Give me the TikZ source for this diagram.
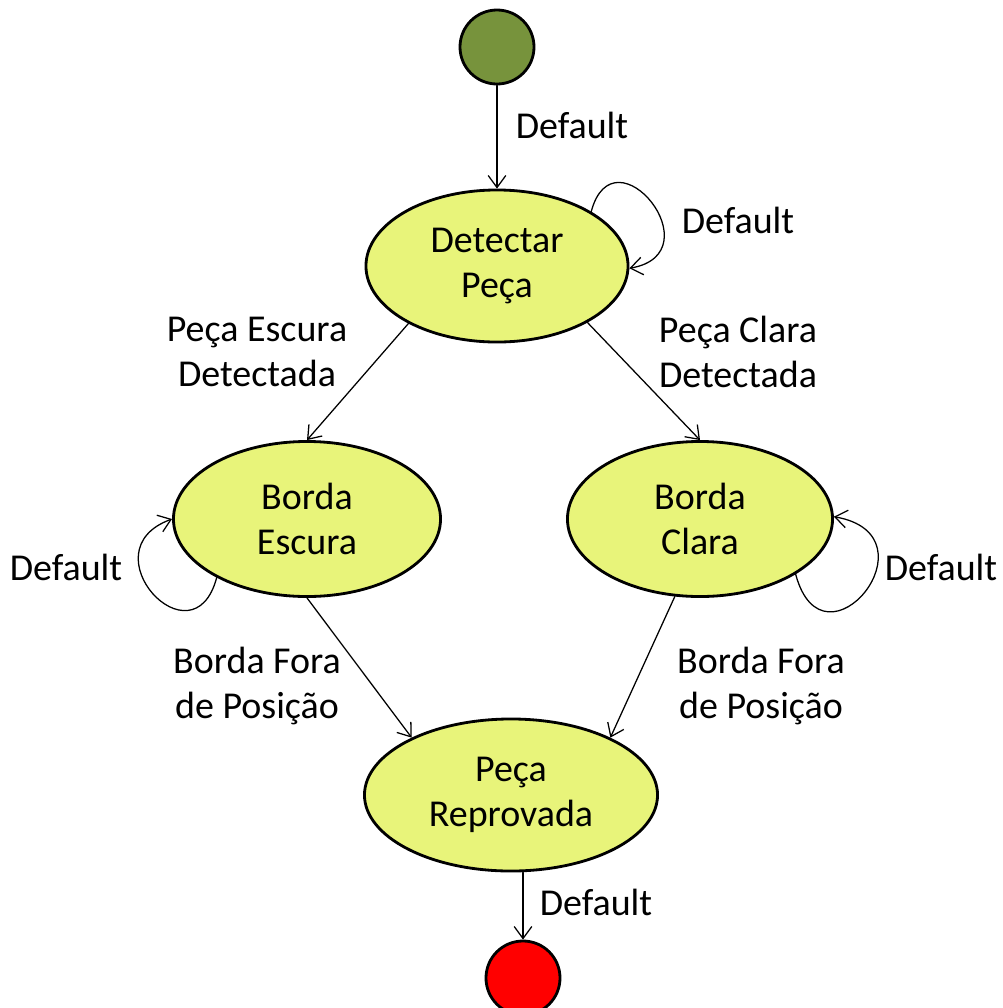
\documentclass[tikz,border=0pt]{standalone}
\usepackage{fontspec}
\setmainfont{Carlito}
\usetikzlibrary{shapes.geometric,arrows.meta}
\definecolor{corestado}{RGB}{232,244,122}
\definecolor{corinicio}{RGB}{119,147,60}
\begin{document}
\begin{tikzpicture}[x=0.025cm, y=-0.025cm, font=\fontsize{27}{32}\selectfont, line join=round, line cap=round,
	>={Straight Barb[length=3mm,width=4.4mm]},
	estado/.style={ellipse, draw, line width=2pt, fill=corestado, align=center, inner sep=0pt},
	ponto/.style={circle, draw, line width=2pt, minimum size=1.85cm, inner sep=0pt},
	rotulo/.style={align=center, inner sep=0pt},
	seta/.style={->, line width=0.9pt}]
	\useasboundingbox (0,0) rectangle (1002,1008);
	% estados
	\node[ponto, fill=corinicio] (ini) at (497,47) {};
	\node[estado, minimum width=6.55cm, minimum height=3.8cm] (dp) at (497,266) {Detectar\\Peça};
	\node[estado, minimum width=6.675cm, minimum height=3.875cm] (be) at (307,519) {Borda\\Escura};
	\node[estado, minimum width=6.625cm, minimum height=3.875cm] (bc) at (700,519) {Borda\\Clara};
	\node[estado, minimum width=7.325cm, minimum height=3.8cm] (rp) at (511,795) {Peça\\Reprovada};
	\node[ponto, fill=red] (fim) at (523,978) {};
	% transicoes
	\draw[seta] (ini) -- (dp);
	\draw[seta] (dp.30) to[out=75, in=10, looseness=3.3] (dp.-1);
	\draw[seta] (dp.213) -- (be.north);
	\draw[seta] (dp.-32) -- (bc.north);
	\draw[seta] (be.213) to[out=255, in=200, looseness=3.2] (be.180);
	\draw[seta] (bc.-30) to[out=-75, in=-10, looseness=4] (bc.1);
	\draw[seta] (be.south) -- (rp.150);
	\draw[seta] (bc.252) -- (rp.30);
	\draw[seta] (rp.south -| fim) -- (fim);
	% rotulos
	\node[rotulo] (r1) at (572,125) {Default};
	\node[rotulo] (r2) at (738,220) {Default};
	\node[rotulo] (r3) at (257,352) {Peça Escura\\Detectada};
	\node[rotulo] (r4) at (738,352) {Peça Clara\\Detectada};
	\node[rotulo] (r5) at (66,567) {Default};
	\node[rotulo] (r6) at (941,567) {Default};
	\node[rotulo] (r7) at (257,686) {Borda Fora\\de Posição};
	\node[rotulo] (r8) at (761,686) {Borda Fora\\de Posição};
	\node[rotulo] (r9) at (596,902) {Default};
\end{tikzpicture}
\end{document}
